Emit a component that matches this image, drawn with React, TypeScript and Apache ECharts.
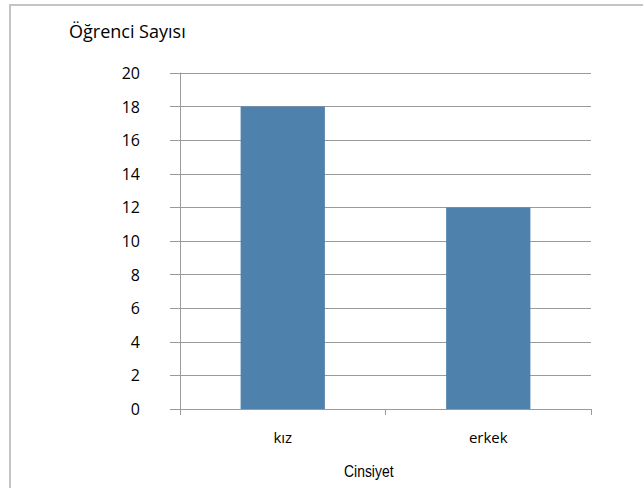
import React, { useEffect, useRef } from "react";
import * as echarts from "echarts";

const categories = ["kız", "erkek"];
const values = [18, 12];
const titleText = "Öğrenci Sayısı";
const xName = "Cinsiyet";

export default function App() {
  const ref = useRef<HTMLDivElement>(null);
  useEffect(() => {
    const chart = echarts.init(ref.current!, null, { renderer: "svg" });
    chart.setOption({
      animation: false,
      backgroundColor: "#ffffff",
      grid: { left: 180, right: 52, top: 73, bottom: 79 },
      graphic: [
        {
          type: "rect",
          shape: { x: 10, y: 5, width: 660, height: 520 },
          style: { fill: "none", stroke: "#c4c4c4", lineWidth: 2 },
          silent: true,
        },
        {
          type: "text",
          left: 69,
          top: 22,
          style: { text: titleText, fontSize: 18, fontFamily: "Open Sans", fill: "#000" },
        },
        {
          type: "text",
          x: 344,
          y: 462,
          scaleX: 0.82,
          style: {
            text: xName,
            fontSize: 17,
            fontWeight: "normal",
            fontFamily: "Liberation Sans",
            fill: "#000",
          },
        },
      ],
      xAxis: {
        type: "category",
        data: categories,
        axisLine: { lineStyle: { color: "#9a9a9a", width: 1 } },
        axisTick: { show: true, length: 6, lineStyle: { color: "#9a9a9a" } },
        axisLabel: { color: "#000", fontSize: 15, fontFamily: "Open Sans", margin: 20 },
      },
      yAxis: {
        type: "value",
        min: 0,
        max: 20,
        interval: 2,
        axisLine: { show: true, lineStyle: { color: "#9a9a9a", width: 1 } },
        axisTick: { show: true, length: 10, lineStyle: { color: "#9a9a9a" } },
        splitLine: { lineStyle: { color: "#9a9a9a", width: 1 } },
        axisLabel: { color: "#000", fontSize: 16, fontFamily: "Open Sans", margin: 40 },
      },
      series: [
        {
          type: "bar",
          data: values,
          barCategoryGap: "59%",
          itemStyle: { color: "#4e81ab" },
        },
      ],
    });
    return () => chart.dispose();
  }, []);
  return (
    <div
      ref={ref}
      style={{ position: "absolute", left: 0, top: 0, width: 643, height: 488 }}
    />
  );
}
